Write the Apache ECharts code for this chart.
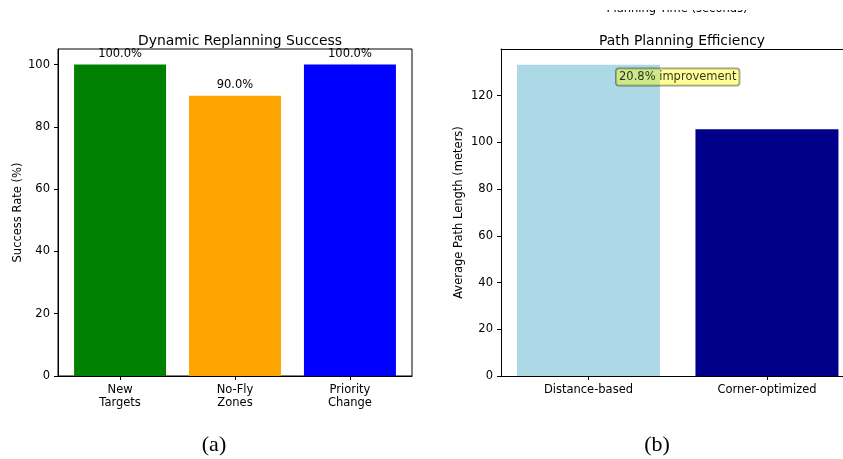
<!DOCTYPE html>
<html>
<head>
<meta charset="utf-8">
<script src="https://cdn.jsdelivr.net/npm/echarts@6/dist/echarts.min.js"></script>
<style>
  html, body { margin: 0; padding: 0; background: #fff; }
  #chart { width: 843px; height: 459px; }
</style>
</head>
<body>
<div id="chart"></div>
<script>
// Panel (a): replanning success per scenario
const replanCategories = ['New\nTargets', 'No-Fly\nZones', 'Priority\nChange'];
const replanSuccess = [100, 90, 100];
const replanColors = ['#008000', '#FFA500', '#0000FF'];
const replanTicks = [0, 20, 40, 60, 80, 100];

// Panel (b): average path length per planner
const pathCategories = ['Distance-based', 'Corner-optimized'];
const pathLength = [133.3, 105.6];
const pathColors = ['#ADD8E6', '#00008B'];
const pathTicks = [0, 20, 40, 60, 80, 100, 120];
const improvementText = ((pathLength[0] - pathLength[1]) / pathLength[0] * 100).toFixed(1) + '% improvement';

const FONT = 'DejaVu Sans';
const TICK_SIZE = 11.5;
const TITLE_SIZE = 13.9;
const chart = echarts.init(document.getElementById('chart'), null, { renderer: 'canvas' });

function idx(arr) { return arr.map((_, i) => i); }

const axisLineStyle = { show: true, onZero: false, lineStyle: { color: '#000', width: 1 } };
const tickText = { fontFamily: FONT, fontSize: TICK_SIZE, color: '#000' };

const option = {
  animation: false,
  backgroundColor: '#fff',
  title: [
    { text: 'Dynamic Replanning Success', left: 235, top: 29, textAlign: 'center',
      textStyle: { fontFamily: FONT, fontSize: TITLE_SIZE, fontWeight: 'normal', color: '#000' } },
    { text: 'Path Planning Efficiency', left: 677, top: 29, textAlign: 'center',
      textStyle: { fontFamily: FONT, fontSize: TITLE_SIZE, fontWeight: 'normal', color: '#000' } }
  ],
  grid: [
    { left: 58, top: 49, width: 354, height: 327, show: true, borderColor: '#000', borderWidth: 1, backgroundColor: 'transparent' },
    // right panel runs past the page edge, so its right spine is not drawn
    { left: 501, top: 49, width: 342, height: 327 }
  ],
  xAxis: [
    { gridIndex: 0, type: 'value', min: -0.54, max: 2.54,
      axisLine: axisLineStyle, splitLine: { show: false },
      axisTick: { show: true, length: 4, customValues: idx(replanCategories), lineStyle: { color: '#000' } },
      axisLabel: Object.assign({ customValues: idx(replanCategories), margin: 8, lineHeight: 13,
        formatter: v => replanCategories[Math.round(v)] }, tickText) },
    { gridIndex: 1, type: 'value', min: -0.49, max: 1.426,
      axisLine: axisLineStyle, splitLine: { show: false },
      axisTick: { show: true, length: 4, customValues: idx(pathCategories), lineStyle: { color: '#000' } },
      axisLabel: Object.assign({ customValues: idx(pathCategories), margin: 8,
        formatter: v => pathCategories[Math.round(v)] }, tickText) },
    // top spine of the right panel
    { gridIndex: 1, type: 'value', position: 'top', min: -0.49, max: 1.426,
      axisLine: axisLineStyle, axisTick: { show: false }, axisLabel: { show: false }, splitLine: { show: false } }
  ],
  yAxis: [
    { gridIndex: 0, type: 'value', min: 0, max: 105,
      name: 'Success Rate (%)', nameLocation: 'middle', nameGap: 34,
      nameTextStyle: tickText,
      axisLine: axisLineStyle, splitLine: { show: false },
      axisTick: { show: true, length: 4, customValues: replanTicks, lineStyle: { color: '#000' } },
      axisLabel: Object.assign({ customValues: replanTicks, margin: 8 }, tickText) },
    { gridIndex: 1, type: 'value', min: 0, max: 140.0,
      name: 'Average Path Length (meters)', nameLocation: 'middle', nameGap: 36,
      nameTextStyle: tickText,
      axisLine: axisLineStyle, splitLine: { show: false },
      axisTick: { show: true, length: 4, customValues: pathTicks, lineStyle: { color: '#000' } },
      axisLabel: Object.assign({ customValues: pathTicks, margin: 8 }, tickText) }
  ],
  series: [
    { type: 'bar', xAxisIndex: 0, yAxisIndex: 0, barWidth: 92,
      data: replanSuccess.map((v, i) => ({ value: [i, v], itemStyle: { color: replanColors[i] } })),
      label: Object.assign({ show: true, position: 'top', distance: 5,
        formatter: p => p.value[1].toFixed(1) + '%' }, tickText) },
    { type: 'bar', xAxisIndex: 1, yAxisIndex: 1, barWidth: 143,
      data: pathLength.map((v, i) => ({ value: [i, v], itemStyle: { color: pathColors[i] } })) },
    { type: 'scatter', xAxisIndex: 1, yAxisIndex: 1, symbolSize: 0, z: 10,
      data: [[0.5, 128]],
      label: Object.assign({ show: true, position: 'inside', formatter: improvementText,
        backgroundColor: 'rgba(255,255,0,0.5)', borderColor: 'rgba(0,0,0,0.5)', borderWidth: 1,
        borderRadius: 3, padding: [3, 3, 2, 3] }, tickText) }
  ],
  graphic: [
    { type: 'text', z: 1,
      style: { x: 677, y: 15, text: 'Planning Time (seconds)', textAlign: 'center', textVerticalAlign: 'bottom',
        font: TICK_SIZE + 'px "DejaVu Sans"', fill: '#000' } },
    { type: 'rect', z: 2, shape: { x: 560, y: 0, width: 240, height: 10 }, style: { fill: '#fff' } },
    { type: 'text', z: 3, style: { x: 214, y: 445, text: '(a)', textAlign: 'center', textVerticalAlign: 'middle',
        font: '22px "Liberation Serif"', fill: '#000' } },
    { type: 'text', z: 3, style: { x: 657, y: 445, text: '(b)', textAlign: 'center', textVerticalAlign: 'middle',
        font: '22px "Liberation Serif"', fill: '#000' } }
  ]
};

chart.setOption(option);
</script>
</body>
</html>
